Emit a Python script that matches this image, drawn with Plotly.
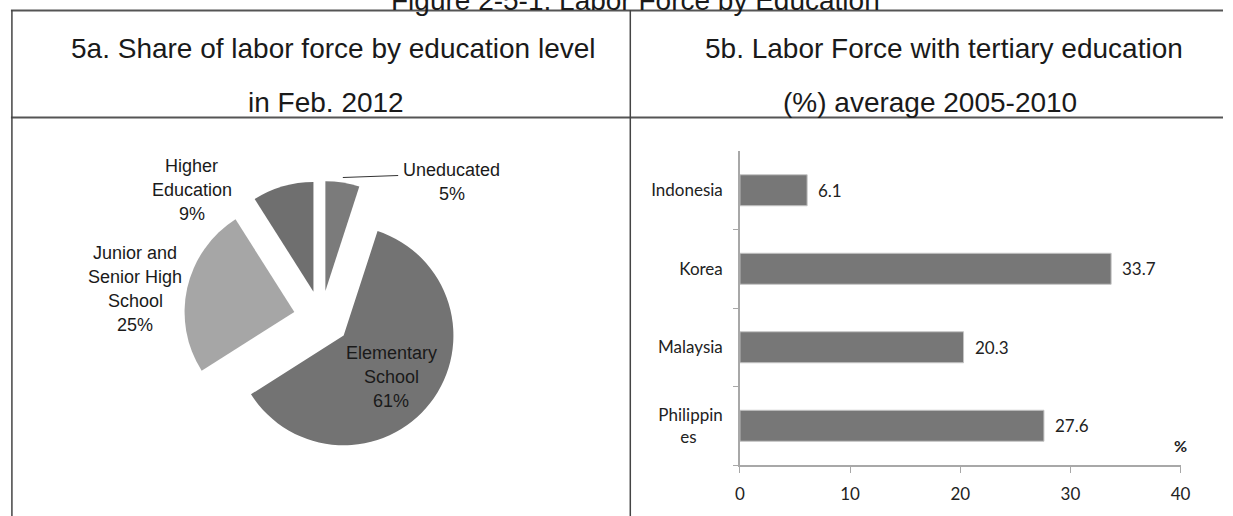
import plotly.graph_objects as go

# ---- data -------------------------------------------------------------
edu_levels = ["Uneducated", "Elementary School", "Junior and Senior High School", "Higher Education"]
edu_label_lines = [["Uneducated"], ["Elementary", "School"], ["Junior and", "Senior High", "School"], ["Higher", "Education"]]
edu_share = [5, 61, 25, 9]

countries = ["Indonesia", "Korea", "Malaysia", "Philippines"]
country_ticktext = ["Indonesia", "Korea", "Malaysia", "Philippin<br>es" + "&nbsp;" * 6]
tertiary_pct = [6.1, 33.7, 20.3, 27.6]
x_ticks = [0, 10, 20, 30, 40]

W, H = 1233, 516


def px(x):
    return x / W


def py(y):
    return 1 - y / H


ARIAL = "Liberation Sans, Arial, sans-serif"
CALIBRI = "Lato, Open Sans, sans-serif"

fig = go.Figure()

# ---- 5a: exploded pie -------------------------------------------------
pie_colors = ["#7b7b7b", "#737373", "#a6a6a6", "#6f6f6f"]
fig.add_trace(go.Pie(
    labels=edu_levels,
    values=edu_share,
    sort=False,
    direction="clockwise",
    rotation=0,
    pull=[0.25, 0.26, 0.25, 0.25],
    marker=dict(colors=pie_colors, line=dict(width=0)),
    textinfo="none",
    hoverinfo="label+percent",
    showlegend=False,
    domain=dict(x=[px(180), px(460)], y=[py(458), py(178)]),
))

# ---- 5b: horizontal bars ----------------------------------------------
fig.add_trace(go.Bar(
    x=tertiary_pct,
    y=countries,
    orientation="h",
    marker=dict(color="#777777", line=dict(color="#c4c4c4", width=1)),
    width=0.395,
    showlegend=False,
    xaxis="x",
    yaxis="y",
))

fig.update_layout(
    width=W,
    height=H,
    margin=dict(l=0, r=0, t=0, b=0),
    paper_bgcolor="white",
    plot_bgcolor="white",
    xaxis=dict(
        domain=[px(744), px(1190)],
        range=[0, 40],
        tickvals=x_ticks,
        ticks="outside",
        ticklen=6,
        tickcolor="#a8a8a8",
        showline=True,
        linecolor="#a8a8a8",
        linewidth=1.5,
        showgrid=False,
        zeroline=False,
        tickfont=dict(family=CALIBRI, size=17, color="#222"),
        ticklabelstandoff=7,
        anchor="y",
    ),
    yaxis=dict(
        domain=[py(465), py(151)],
        categoryorder="array",
        categoryarray=countries[::-1],
        tickvals=countries,
        ticktext=country_ticktext,
        tickson="boundaries",
        ticks="outside",
        ticklen=5,
        tickcolor="#a8a8a8",
        showline=True,
        linecolor="#a8a8a8",
        linewidth=1.5,
        showgrid=False,
        zeroline=False,
        tickfont=dict(family=CALIBRI, size=17, color="#222"),
        ticklabelstandoff=12,
        anchor="x",
    ),
)

annotations = []

# value labels beside each bar
for c, v in zip(countries, tertiary_pct):
    annotations.append(dict(
        x=v, y=c, xref="x", yref="y", text=f"{v:.1f}", showarrow=False,
        xanchor="left", xshift=9, yshift=0,
        font=dict(family=CALIBRI, size=17, color="#222"),
    ))
annotations.append(dict(
    x=px(1190), y=py(445), xref="paper", yref="paper", text="<b>%</b>", showarrow=False,
    xanchor="center", yanchor="middle",
    font=dict(family=CALIBRI, size=16, color="#222"),
))

# pie slice labels (one annotation per line)
pie_label_layout = {
    "Uneducated": (452, 170),
    "Elementary School": (391, 353),
    "Junior and Senior High School": (132, 253),
    "Higher Education": (189, 166),
}
line_step = 24
for lab, lines, val in zip(edu_levels, edu_label_lines, edu_share):
    x0, y0 = pie_label_layout[lab]
    for i, ln in enumerate(lines + [f"{val}%"]):
        annotations.append(dict(
            x=px(x0), y=py(y0 + i * line_step), xref="paper", yref="paper",
            text=ln, showarrow=False,
            xanchor="center", yanchor="middle", align="center",
            font=dict(family=ARIAL, size=18, color="#1a1a1a"),
        ))

# header cells
headers = [
    (333, 49, "5a. Share of labor force by education level"),
    (325, 102, "in Feb. 2012"),
    (951, 49, "5b. Labor Force with tertiary education"),
    (936, 102, "(%) average 2005-2010"),
]
for x0, y0, t in headers:
    annotations.append(dict(
        x=px(x0), y=py(y0), xref="paper", yref="paper", text=t,
        showarrow=False, xanchor="center", yanchor="middle",
        font=dict(family=ARIAL, size=28, color="#1a1a1a"),
    ))

# figure title, partly above the top edge
annotations.append(dict(
    x=px(638), y=py(18), xref="paper", yref="paper",
    text="Figure 2-5-1. Labor Force by Education", showarrow=False,
    xanchor="center", yanchor="bottom",
    font=dict(family=ARIAL, size=28, color="#1a1a1a"),
))

fig.update_layout(annotations=annotations)

# table frame and leader line
line_dark = dict(color="#555555", width=2)
shapes = [
    dict(type="line", xref="paper", yref="paper", x0=px(6), x1=1.0, y0=py(10.5), y1=py(10.5), line=line_dark),
    dict(type="line", xref="paper", yref="paper", x0=px(6), x1=1.0, y0=py(117.5), y1=py(117.5), line=line_dark),
    dict(type="line", xref="paper", yref="paper", x0=px(7), x1=px(7), y0=py(10), y1=0, line=dict(color="#444", width=1.5)),
    dict(type="line", xref="paper", yref="paper", x0=px(633), x1=px(633), y0=py(10), y1=0, line=dict(color="#444", width=1.5)),
    dict(type="line", xref="paper", yref="paper", x0=px(342), x1=px(398), y0=py(177.5), y1=py(175.5), line=dict(color="#333", width=1)),
]
fig.update_layout(shapes=shapes)

fig.write_html("out.html")
